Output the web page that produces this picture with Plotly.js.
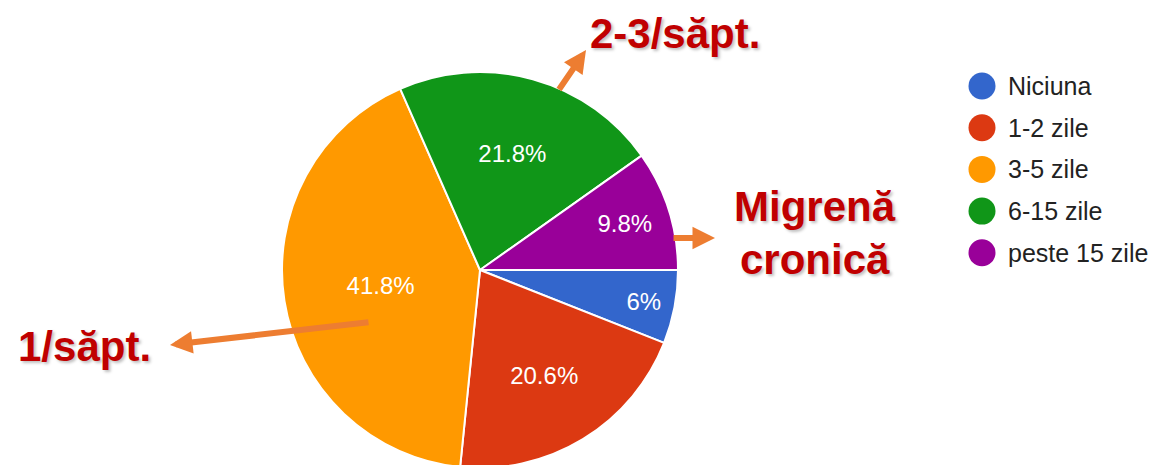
<!DOCTYPE html>
<html>
<head>
<meta charset="utf-8">
<script src="https://cdn.plot.ly/plotly-3.0.1.min.js"></script>
<style>
html,body{margin:0;padding:0;overflow:hidden;background:#fff;}
#chart{width:1159px;height:468px;}
</style>
</head>
<body>
<div id="chart"></div>
<script>
// Data
const categories = ["Niciuna", "1-2 zile", "3-5 zile", "6-15 zile", "peste 15 zile"];
const percents = [6, 20.6, 41.8, 21.8, 9.8];
const colors = ["#3366cc", "#dc3912", "#ff9900", "#109618", "#990099"];
const calloutTexts = ["2-3/săpt.", "Migrenă", "cronică", "1/săpt."];

const W = 1159, H = 468;
const px = x => x / W;
const py = y => 1 - y / H;

const pie = {
  type: "pie",
  values: percents,
  labels: categories,
  marker: {colors: colors, line: {color: "#ffffff", width: 2}},
  sort: false,
  direction: "clockwise",
  rotation: 90,
  texttemplate: "%{value}%",
  textposition: "inside",
  insidetextorientation: "horizontal",
  textfont: {family: "Liberation Sans, Arial, sans-serif", size: 24, color: "#ffffff"},
  hoverinfo: "label+percent",
  showlegend: false,
  domain: {x: [px(282), px(678)], y: [0, 396 / H]}
};

const annotations = [];
const shapes = [];

// Custom legend (round markers)
const legendTop = 86, legendStep = 41.7;
categories.forEach((c, i) => {
  const cy = legendTop + i * legendStep;
  shapes.push({
    type: "circle", xref: "paper", yref: "paper",
    x0: px(982 - 13.5), x1: px(982 + 13.5), y0: py(cy + 13.5), y1: py(cy - 13.5),
    fillcolor: colors[i], line: {width: 0}
  });
  annotations.push({
    xref: "paper", yref: "paper", x: px(1006), y: py(cy), xanchor: "left", yanchor: "middle",
    text: c, showarrow: false,
    font: {family: "Liberation Sans, Arial, sans-serif", size: 25, color: "#222222"}
  });
});

// Arrows
const arrowColor = "#ed7d31";
const arrows = [
  {tip: [586, 50], tail: [558, 91]},
  {tip: [715, 238], tail: [672, 238]},
  {tip: [170, 345], tail: [370, 322]}
];
arrows.forEach(a => {
  annotations.push({
    xref: "paper", yref: "paper", x: px(a.tip[0]), y: py(a.tip[1]),
    axref: "pixel", ayref: "pixel", ax: a.tail[0] - a.tip[0], ay: a.tail[1] - a.tip[1],
    text: "", showarrow: true, arrowhead: 2, arrowsize: 0.75, arrowwidth: 6,
    arrowcolor: arrowColor, standoff: 0
  });
});

// Callout texts
const calloutPos = [[675, 34], [815, 206], [815, 259], [84, 346]];
calloutTexts.forEach((t, i) => {
  annotations.push({
    xref: "paper", yref: "paper", x: px(calloutPos[i][0]), y: py(calloutPos[i][1]),
    xanchor: "center", yanchor: "middle", text: t, showarrow: false,
    font: {family: "Liberation Sans, Arial, sans-serif", size: 42, color: "#c00000", weight: 700,
           shadow: "2px 2px 3px rgba(0,0,0,0.25)"}
  });
});

const layout = {
  width: W, height: H,
  margin: {l: 0, r: 0, t: 0, b: 0},
  paper_bgcolor: "#ffffff",
  showlegend: false,
  annotations: annotations,
  shapes: shapes
};

Plotly.newPlot("chart", [pie], layout, {displayModeBar: false, staticPlot: true});
</script>
</body>
</html>
